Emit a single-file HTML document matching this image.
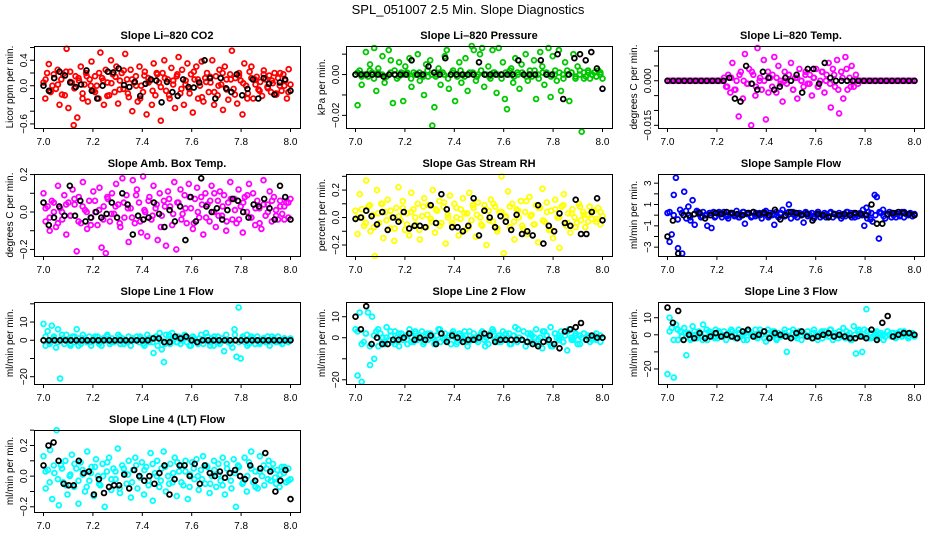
<!DOCTYPE html>
<html><head><meta charset="utf-8"><style>
body{margin:0;background:#fff}
svg{display:block;font-family:"Liberation Sans",Arial,sans-serif}
</style></head><body>
<svg id="chart" width="936" height="540" viewBox="0 0 936 540" xmlns="http://www.w3.org/2000/svg">
<rect width="936" height="540" fill="#fff"/>
<text x="468" y="14" text-anchor="middle" font-size="13">SPL_051007  2.5 Min. Slope Diagnostics</text>
</svg>
<script>
const xTicks=[7.0,7.2,7.4,7.6,7.8,8.0];
const xTickLabels=["7.0","7.2","7.4","7.6","7.8","8.0"];

const co2Vals=[0.05,-0.2,0.2,0.34,-0.1,0.0,0.12,-0.05,0.25,-0.3,0.1,0.18,-0.15,0.58,-0.35,0.22,0.05,-0.62,0.15,-0.5,0.08,0.3,-0.12,0.02,0.2,-0.25,0.1,0.38,-0.08,0.15,0.0,-0.2,0.52,0.12,-0.3,0.25,0.05,-0.15,0.4,0.18,-0.1,0.3,-0.28,0.08,0.2,-0.05,0.5,0.1,-0.18,0.25,-0.4,0.05,0.15,-0.25,0.3,0.0,-0.1,0.22,-0.45,0.12,0.08,-0.3,0.35,-0.15,0.18,0.05,-0.55,0.2,0.4,-0.08,0.1,-0.2,0.28,0.02,-0.35,0.15,0.45,-0.12,0.25,-0.3,0.08,0.35,-0.05,0.18,-0.42,0.1,0.3,-0.2,0.0,0.38,-0.25,0.12,0.2,-0.1,0.05,0.4,-0.3,0.15,-0.15,0.25,0.02,-0.38,0.3,0.1,-0.22,0.18,0.55,-0.05,0.12,-0.28,0.2,0.08,-0.45,0.35,0.0,-0.12,0.22,0.3,-0.2,0.1,0.14,-0.06,0.06,-0.16,0.24,0.1,-0.02,0.16,-0.1,0.04,0.2,-0.14,0.12,0.0,-0.08,0.18,0.08,-0.2,0.26,0.02];
const co2Extra=[0.1,-0.08,0.18,0.02,-0.14,0.22,0.06,-0.04,0.12,-0.2,0.15,0.0,-0.1,0.2,0.08,-0.16,0.04,0.14,-0.06,0.24,-0.12,0.1,0.0,-0.2,0.16,0.05,-0.08,0.2,-0.02,0.12,-0.15,0.08,0.18,-0.05,0.02,-0.12,0.22,0.1,-0.18,0.06,0.14,-0.1,0.0,0.2,-0.06,0.1,-0.14,0.16,0.04,-0.2,0.12,0.02,-0.08,0.18,-0.04,0.08,-0.12,0.2,0.0,-0.1];
const co2Black=[0.0,-0.08,0.12,0.22,0.16,0.05,-0.02,0.02,0.24,-0.08,-0.2,0.0,0.22,0.21,0.27,0.01,-0.02,0.06,-0.16,0.03,0.1,0.08,-0.26,0.06,-0.1,-0.16,0.1,-0.02,-0.03,0.05,0.4,0.12,-0.2,0.12,-0.04,-0.1,0.18,-0.15,-0.05,0.1,-0.2,0.12,0.03,-0.14,0.05,0.1,-0.08];

const presVals=[0.0,-0.015,0.002,-0.005,0.0,0.011,-0.001,0.005,0.001,0.013,-0.008,0.003,0.0,0.009,-0.004,-0.001,0.012,0.007,-0.014,0.0,-0.002,0.006,0.001,-0.013,0.004,0.0,0.008,-0.006,0.001,0.0,0.01,-0.003,0.0,-0.01,0.005,-0.001,0.007,-0.025,-0.016,0.0,0.003,-0.005,0.001,0.009,0.012,-0.007,0.0,0.002,-0.013,-0.001,0.006,-0.004,0.0,0.008,-0.008,0.001,0.014,0.012,-0.003,0.0,0.01,0.013,-0.006,0.0,0.004,-0.002,0.012,0.001,-0.009,0.013,0.0,0.006,-0.012,-0.017,0.0,0.003,-0.004,0.008,0.001,-0.007,0.005,0.0,0.01,-0.003,0.002,-0.001,0.007,-0.012,0.0,0.011,0.004,-0.005,0.001,0.013,-0.011,0.009,0.0,-0.003,0.012,-0.008,0.0,0.006,0.002,-0.013,0.001,0.01,-0.002,0.004,0.0,-0.028,0.001,-0.001,0.002,-0.002,0.0,0.001,-0.001,0.002,0.0,-0.002];
const presExtra=[0.001,-0.001,0.0,0.002,-0.002,0.001,0.0,-0.001,0.001,0.002,-0.001,0.0,0.001,-0.002,0.0,0.001,-0.001,0.002,0.0,-0.001,0.001,0.0,-0.002,0.001,0.0,0.002,-0.001,0.0,0.001,-0.001,0.002,0.0,-0.001,0.001,0.0,-0.002,0.001,0.002,-0.001,0.0,0.001,-0.001,0.0,0.002,-0.002,0.001,0.0,-0.001,0.002,0.001,-0.002,0.0,0.001,-0.001,0.002,-0.002,0.001,0.0,-0.001,0.001];
const presBlack=[0,0,0,0,0,-0.001,0,0,0,0,0.007,0,0,0.004,0.001,0,0.008,0,0,0,0,0,0.006,0,0,0,0,0,0,0.007,0,0,0,0.007,0,0,0.01,-0.012,0,0.008,0.01,0.007,0.011,0.003,-0.007];

const tempVals=[0,0,0,0,0,0,0,0,0,0,0,0,0,0,0,0,0,0,0,0,0,0,0,0,0,0,0,0.001,-0.002,0.002,-0.004,0.006,-0.003,0.0,-0.012,0.003,-0.006,0.009,-0.001,0.004,-0.015,0.002,-0.005,0.011,0.0,-0.003,0.007,-0.013,0.003,0.001,-0.002,0.008,-0.004,0.005,0.0,-0.007,0.003,-0.001,0.002,0.006,-0.003,0.001,-0.006,0.004,0.0,-0.002,0.003,-0.001,0.002,-0.005,0.001,0.004,-0.002,0.0,0.003,-0.004,0.002,0.006,-0.009,0.004,-0.002,0.007,-0.011,0.003,-0.006,0.008,-0.003,0.001,0.005,-0.002,0.002,-0.001,0,0,0,0,0,0,0,0,0,0,0,0,0,0,0,0,0,0,0,0,0,0,0,0,0,0,0];
const tempExtra=[0,0,0,0,0,0,0,0,0,0,0,0,0,0,-0.002,0.001,-0.003,0.002,0.0,-0.001,0.003,-0.002,0.001,0.0,-0.004,0.002,0.001,-0.001,0.0,0.002,-0.003,0.001,0.0,0.002,-0.001,0.001,-0.002,0.003,0.0,-0.001,0.002,-0.003,0.001,0.004,-0.002,0.0,0,0,0,0,0,0,0,0,0,0,0,0,0,0];
const tempBlack=[0,0,0,0,0,0,0,0,0,0,0,0.001,-0.006,-0.007,0.005,-0.001,-0.003,0.003,0.001,-0.003,-0.002,0.001,0.0,0.002,-0.004,0.004,0.004,-0.001,0.006,0.001,0,0,0,0,0,0,0,0,0,0,0,0,0,0,0];

const ambVals=[0.1,-0.05,0.03,-0.1,0.06,0.0,-0.08,0.14,0.02,-0.04,0.09,-0.12,0.05,-0.02,0.12,0.04,-0.21,0.08,-0.06,0.16,0.01,-0.09,0.06,-0.03,0.11,0.0,-0.07,0.13,-0.19,0.03,-0.22,0.07,-0.05,0.1,-0.01,0.15,0.04,-0.08,0.18,-0.03,0.09,-0.16,0.02,0.17,-0.06,0.12,0.05,-0.11,0.19,0.0,-0.13,0.08,-0.04,0.14,0.02,-0.15,0.1,-0.02,0.06,-0.18,0.11,0.03,-0.07,0.16,-0.2,0.05,0.12,-0.01,0.09,-0.06,0.15,0.02,-0.09,0.07,0.13,-0.03,0.08,-0.12,0.1,0.04,-0.05,0.14,0.0,-0.08,0.06,0.11,-0.02,0.09,-0.1,0.05,0.16,-0.04,0.07,-0.06,0.12,0.03,-0.11,0.08,0.0,0.15,-0.03,0.1,-0.07,0.06,0.02,-0.09,0.17,-0.02,0.04,0.11,-0.05,0.08,0.01,-0.04,0.06,-0.01,0.03,0.05,-0.03,0.07];
const ambExtra=[0.02,-0.03,0.05,-0.06,0.0,0.04,-0.02,0.07,-0.05,0.03,0.0,-0.07,0.06,0.01,-0.04,0.08,-0.01,0.03,-0.06,0.05,0.02,-0.03,0.09,-0.05,0.01,0.06,-0.02,0.04,-0.08,0.03,0.07,-0.01,0.05,-0.04,0.02,0.08,-0.06,0.0,0.04,-0.03,0.06,0.1,-0.02,0.03,-0.05,0.07,0.01,-0.04,0.05,0.09,-0.03,0.02,-0.06,0.04,0.0,0.06,-0.02,0.03,-0.04,0.05];
const ambBlack=[0.05,-0.07,-0.03,0.03,-0.02,0.14,-0.02,0.06,-0.05,-0.03,0.0,-0.03,-0.01,0.05,-0.03,0.1,0.04,-0.12,-0.02,-0.04,-0.03,0.05,-0.01,-0.08,0.01,-0.05,0.03,-0.15,0.08,-0.05,0.18,0.03,0.0,0.02,-0.04,0.01,0.07,0.06,0.0,-0.03,0.04,0.03,0.07,0.02,-0.04,0.14,0.08,-0.04];

const rhVals=[0.05,-0.12,0.17,0.0,-0.06,0.27,0.08,-0.1,0.02,-0.28,0.2,-0.04,0.1,-0.15,0.04,0.13,-0.08,0.0,-0.17,0.07,0.22,-0.02,0.12,-0.09,0.03,-0.13,0.18,0.06,-0.05,0.1,-0.16,0.01,0.14,-0.07,0.09,-0.01,0.2,-0.11,0.05,0.12,-0.04,0.08,-0.19,0.02,0.16,-0.06,0.1,0.0,-0.13,0.06,0.14,-0.09,0.03,0.18,-0.02,0.07,-0.14,0.11,0.0,-0.06,0.09,-0.2,0.05,0.13,-0.03,0.08,-0.1,0.04,0.3,-0.26,0.01,0.19,-0.07,0.1,-0.16,0.06,0.0,0.12,-0.08,0.04,-0.12,0.15,0.02,-0.05,0.09,-0.18,0.07,0.21,-0.03,0.11,-0.09,0.05,-0.15,0.13,0.0,-0.22,0.08,0.17,-0.06,0.03,-0.11,0.06,0.0,-0.04,0.1,-0.02,0.04,-0.07,0.02,0.08,-0.01,0.05,-0.03,0.07,-0.05,0.01];
const rhExtra=[0.0,0.06,-0.04,0.09,-0.07,0.03,0.1,-0.02,0.05,-0.08,0.01,0.07,-0.05,0.04,0.0,-0.09,0.08,0.02,-0.03,0.06,-0.06,0.11,0.0,-0.04,0.07,-0.01,0.03,-0.07,0.09,0.02,-0.05,0.06,-0.02,0.1,-0.08,0.04,0.0,0.08,-0.03,0.05,-0.06,0.12,0.01,-0.05,0.07,-0.02,0.04,-0.09,0.06,0.0,0.09,-0.04,0.03,-0.07,0.08,0.02,-0.03,0.05,-0.01,0.04];
const rhBlack=[-0.01,0.0,0.05,0.01,-0.05,0.04,-0.09,0.0,-0.03,0.04,-0.08,-0.06,-0.06,-0.07,0.09,-0.04,0.17,0.06,-0.07,-0.07,-0.1,-0.06,0.14,-0.13,0.05,0.0,-0.07,0.01,-0.03,-0.09,0.02,-0.12,-0.1,-0.13,0.09,-0.19,-0.06,-0.1,0.03,-0.04,-0.06,0.13,-0.12,-0.12,0.04,0.14,-0.02];

const sampleVals=[0.2,-2.5,-1.8,1.9,3.5,-3.1,0.5,-3.6,2.2,-0.3,0.8,-0.5,1.4,-0.9,0.4,0.1,-0.2,0.3,0.0,-1.0,0.2,-1.2,0.3,-0.1,0.2,0.1,-0.2,0.3,0.0,-0.3,0.2,0.1,-0.1,0.4,-0.2,0.0,0.3,-0.8,0.1,0.2,-0.2,0.3,-0.1,0.0,0.2,-0.3,0.1,0.4,-0.1,0.2,0.0,-0.9,0.3,-0.2,0.1,0.5,-0.1,0.2,1.0,-0.3,0.3,0.0,-0.2,0.2,0.1,-0.7,0.3,-0.1,0.0,0.2,-0.3,0.1,0.3,-0.2,0.0,0.2,0.1,-0.1,0.3,-0.2,0.1,0.0,0.2,-0.3,0.1,-0.1,0.3,0.0,-0.2,0.2,0.1,-0.1,0.2,0.0,-1.0,0.7,0.3,-0.4,-0.6,1.9,1.7,-2.2,0.2,0.5,-0.3,0.1,0.3,-0.2,0.0,0.2,0.1,-0.1,0.3,-0.2,0.1,0.0,0.2,-0.1,0.1];
const sampleExtra=[0.3,0.0,-0.4,0.2,0.4,-0.2,0.1,0.3,-0.1,0.0,0.2,-0.2,0.3,0.1,-0.1,0.2,0.0,-0.2,0.3,0.1,-0.1,0.2,0.0,0.3,-0.2,0.1,0.0,0.2,-0.1,0.3,0.1,-0.2,0.0,0.2,0.1,-0.1,0.3,0.0,-0.2,0.2,0.1,0.0,-0.1,0.3,0.2,-0.2,0.1,0.5,-0.3,0.2,0.0,0.3,-0.1,0.1,0.2,-0.2,0.0,0.3,0.1,-0.1];
const sampleBlack=[-2.0,-0.5,-3.6,0.0,0.0,0.1,0.2,-0.3,0.0,0.2,0.1,0.3,0.2,0.1,0.0,0.2,0.3,0.1,0.2,0.0,0.5,-0.4,0.0,0.3,0.2,0.0,0.1,-0.5,0.1,0.0,-0.2,0.1,0.0,0.1,0.0,0.2,0.1,0.0,1.0,-0.8,-0.8,0.1,0.2,0.3,0.2,0.1,0.0];

const line1Vals=[9,-3,5,-1,8,2,-4,6,-21,1,-2,3,0,-3,2,-1,6,1,-2,3,0,-1,2,-3,1,0,2,-1,-3,1,0,2,-2,1,-1,0,3,-2,1,0,-1,2,-3,1,0,2,-1,1,-2,0,3,-1,1,-7,2,-3,4,-5,-12,3,0,-2,4,1,-1,2,-2,0,3,-1,1,-3,2,0,-1,1,3,-2,0,2,-1,1,-3,0,2,-2,1,-6,3,-1,0,-4,6,-9,18,-10,2,-1,3,-2,1,0,-2,2,-1,0,1,-1,2,-3,0,1,-1,2,0,-2,1,0,-1,1];
const line1Extra=[2,-2,1,-1,3,0,-2,2,-3,1,0,-1,2,-2,1,3,-1,0,2,-2,-1,1,0,2,-3,1,-1,2,0,-2,3,1,-1,0,2,-3,1,-2,0,4,-3,2,-1,1,0,-2,3,-1,1,-3,2,0,-2,1,-1,2,0,-1,1,0];
const line1Black=[0,0,0,0,0,0,0,0,0,0,0,0,0,0,0,0,0,0,0,0,1,1,-1,-1,2,1,2,0,-1,0,0,0,0,0,0,0,0,0,0,0,0,0,0,0,0,0];

const line2Vals=[4,-18,12,-21,-2,2,12,-13,10,-10,3,-4,2,0,-3,5,-1,1,-2,3,0,-4,2,-1,1,-3,4,0,-2,2,-1,0,3,-2,1,-1,2,0,-3,1,4,-2,0,2,-1,1,-3,3,0,-2,2,-1,0,1,-4,3,-1,2,0,-2,1,3,-1,0,-3,2,4,-1,0,1,-2,3,-1,0,2,-3,1,5,-2,0,-1,3,-4,2,0,1,-2,4,-1,0,-5,3,1,-2,5,-4,2,0,-1,3,-2,1,-6,4,0,-1,2,-3,1,0,2,-1,1,-2,0,1,-1,0,1,0];
const line2Extra=[3,-3,2,-4,1,4,-2,0,3,-3,2,-1,1,-2,3,0,-3,2,1,-2,4,-1,0,2,-3,1,3,-2,0,-1,2,-4,1,3,-2,0,2,-3,1,4,-1,-2,2,0,-3,3,1,-4,2,0,-2,3,-1,1,-3,2,0,-1,2,-2];
const line2Black=[10,4,15,-3,0,-3,-3,-1,-1,0,2,-1,0,-1,1,-3,2,-2,1,0,-2,-1,-1,0,2,1,-2,-1,-1,-1,-1,-1,-2,-3,-4,-2,-1,-3,-5,3,4,5,7,-1,1,0,0];

const line3Vals=[-23,10,4,-25,6,-3,2,-1,4,-12,1,-3,5,0,-2,2,-1,6,1,-3,2,0,-1,3,-2,1,0,2,-3,1,-1,2,0,-2,3,-1,0,1,-3,2,0,-1,3,-2,1,0,2,-4,3,-1,0,2,-2,1,-1,0,3,-10,2,-2,1,-1,0,2,-3,1,0,2,-1,-2,3,0,-1,1,-2,2,0,-1,3,-3,1,0,2,-1,4,-2,0,1,-3,5,-11,2,0,-10,3,15,-2,1,-1,0,2,-2,1,0,-1,2,0,-1,1,-2,1,0,-1,2,0,-1,1,0,-1];
const line3Extra=[2,-3,3,-1,1,-2,2,0,-3,3,1,-2,2,-1,0,3,-2,1,-3,2,0,-1,3,-2,1,2,-3,0,1,-1,3,-2,2,0,-1,1,-3,2,0,3,-1,-2,1,2,-3,0,3,-1,2,-2,1,0,-3,2,1,-1,2,0,-2,1];
const line3Black=[16,7,14,-3,0,-2,1,-2,-1,1,-1,0,-1,-2,2,3,-1,0,2,-2,1,0,-1,-2,1,2,-1,-2,-1,0,1,-1,0,-1,-2,-2,-1,-2,3,-3,7,11,-1,0,1,1,0];

const line4Vals=[0.13,-0.08,0.04,0.17,-0.15,0.02,0.3,-0.19,0.07,-0.04,0.1,-0.12,0.0,0.14,-0.07,0.05,-0.18,0.09,0.01,-0.1,0.16,-0.03,0.06,-0.13,0.11,0.0,-0.06,0.08,-0.2,0.03,0.12,-0.09,0.05,-0.02,0.18,-0.11,0.07,0.02,-0.05,0.1,-0.14,0.04,0.12,-0.08,0.0,0.09,-0.12,0.06,-0.03,0.15,-0.16,0.02,0.1,-0.07,0.05,0.16,-0.1,0.0,0.08,-0.04,0.12,-0.13,0.03,0.07,-0.06,0.1,-0.15,0.01,0.09,-0.02,0.11,-0.09,0.04,0.13,-0.05,0.06,-0.11,0.0,0.1,-0.07,0.08,-0.03,0.12,-0.12,0.05,0.02,-0.08,0.11,-0.2,0.07,0.0,-0.05,0.12,-0.1,0.09,0.16,-0.04,0.03,-0.08,0.13,0.0,-0.06,0.05,0.1,-0.03,0.08,-0.01,0.04,-0.07,0.06,0.02,-0.04,0.05,-0.02];
const line4Extra=[0.03,-0.04,0.07,-0.02,0.05,-0.06,0.01,0.08,-0.03,0.04,-0.07,0.02,0.06,-0.05,0.0,0.09,-0.02,0.03,-0.08,0.05,0.01,-0.04,0.07,-0.01,0.04,-0.06,0.08,0.0,-0.03,0.06,-0.05,0.02,0.09,-0.04,0.03,-0.07,0.05,0.0,-0.02,0.07,-0.05,0.04,0.01,-0.06,0.08,-0.03,0.02,0.06,-0.04,0.0,0.05,-0.07,0.03,0.07,-0.02,0.04,-0.05,0.01,0.06,-0.03];
const line4Black=[0.07,0.2,0.22,0.1,-0.05,-0.06,-0.06,0.1,0.02,0.03,-0.12,-0.02,-0.11,-0.07,-0.06,-0.06,0.01,-0.08,0.04,0.0,-0.03,0.0,-0.05,0.02,0.07,-0.12,-0.02,0.07,0.07,0.0,0.08,-0.05,0.07,0.02,0.0,0.03,-0.01,0.02,0.04,0.0,-0.02,0.07,-0.03,0.05,0.15,0.03,-0.1,-0.03,0.04,-0.15];

const colLeft=[34,346,658], rowTop=[46,174,302,430], PW=266, PH=82;
const panels=[
 {name:"co2",title:"Slope Li-820 CO2",ylab:"Licor ppm per min.",col:0,row:0,color:"#ff0000",ymin:-0.664,ymax:0.624,ticks:[-0.6,-0.4,-0.2,0,0.2,0.4,0.6],labels:[[-0.6,"-0.6"],[0,"0.0"],[0.4,"0.4"]],vals:co2Vals,extra:co2Extra,blk:co2Black},
 {name:"pressure",title:"Slope Li-820 Pressure",ylab:"kPa per min.",col:1,row:0,color:"#00c800",ymin:-0.0262,ymax:0.014,ticks:[-0.02,-0.01,0,0.01],labels:[[-0.02,"-0.02"],[0,"0.00"]],vals:presVals,extra:presExtra,blk:presBlack},
 {name:"temp",title:"Slope Li-820 Temp.",ylab:"degrees C per min.",col:2,row:0,color:"#ff00ff",ymin:-0.0159,ymax:0.0117,ticks:[-0.015,-0.01,-0.005,0,0.005,0.01],labels:[[-0.015,"-0.015"],[0,"0.000"]],vals:tempVals,extra:tempExtra,blk:tempBlack},
 {name:"amb-box-temp",title:"Slope Amb. Box Temp.",ylab:"degrees C per min.",col:0,row:1,color:"#ff00ff",ymin:-0.235,ymax:0.203,ticks:[-0.2,-0.1,0,0.1,0.2],labels:[[-0.2,"-0.2"],[0,"0.0"],[0.2,"0.2"]],vals:ambVals,extra:ambExtra,blk:ambBlack},
 {name:"gas-stream-rh",title:"Slope Gas Stream RH",ylab:"percent per min.",col:1,row:1,color:"#ffff00",ymin:-0.28,ymax:0.317,ticks:[-0.2,-0.1,0,0.1,0.2,0.3],labels:[[-0.2,"-0.2"],[0,"0.0"],[0.2,"0.2"]],vals:rhVals,extra:rhExtra,blk:rhBlack},
 {name:"sample-flow",title:"Slope Sample Flow",ylab:"ml/min per min.",col:2,row:1,color:"#0000ff",ymin:-3.83,ymax:3.86,ticks:[-3,-2,-1,0,1,2,3],labels:[[-3,"-3"],[-1,"-1"],[1,"1"],[3,"3"]],vals:sampleVals,extra:sampleExtra,blk:sampleBlack},
 {name:"line1-flow",title:"Slope Line 1 Flow",ylab:"ml/min per min.",col:0,row:2,color:"#00ffff",ymin:-24,ymax:21,ticks:[-20,-10,0,10,20],labels:[[-20,"-20"],[0,"0"],[10,"10"]],vals:line1Vals,extra:line1Extra,blk:line1Black},
 {name:"line2-flow",title:"Slope Line 2 Flow",ylab:"ml/min per min.",col:1,row:2,color:"#00ffff",ymin:-22,ymax:17,ticks:[-20,-10,0,10],labels:[[-20,"-20"],[0,"0"],[10,"10"]],vals:line2Vals,extra:line2Extra,blk:line2Black},
 {name:"line3-flow",title:"Slope Line 3 Flow",ylab:"ml/min per min.",col:2,row:2,color:"#00ffff",ymin:-28.8,ymax:19.2,ticks:[-20,-10,0,10],labels:[[-20,"-20"],[0,"0"],[10,"10"]],vals:line3Vals,extra:line3Extra,blk:line3Black},
 {name:"line4-flow",title:"Slope Line 4 (LT) Flow",ylab:"ml/min per min.",col:0,row:3,color:"#00ffff",ymin:-0.234,ymax:0.301,ticks:[-0.2,-0.1,0,0.1,0.2,0.3],labels:[[-0.2,"-0.2"],[0,"0.0"],[0.2,"0.2"]],vals:line4Vals,extra:line4Extra,blk:line4Black}
];
const NS="http://www.w3.org/2000/svg";
const svg=document.getElementById("chart");
function mk(tag,attrs,parent){const e=document.createElementNS(NS,tag);for(const k in attrs)e.setAttribute(k,attrs[k]);parent.appendChild(e);return e;}
panels.forEach(p=>{
 const L=colLeft[p.col],T=rowTop[p.row],B=T+PH;
 const g=mk("g",{},svg);
 
 
 const xs=v=>L+9.5+(v-7)/1*(PW-19);
 const ys=v=>B-(v-p.ymin)/(p.ymax-p.ymin)*PH;
 const t=mk("text",{x:L+PW/2,y:T-7,"text-anchor":"middle","font-size":"11","font-weight":"bold"},g);
 t.textContent=p.title.replace(/-/g,"\u2013");
 
 
 const pts=mk("g",{fill:"none","stroke-width":"1.8"},g);
 
 
 const plot=(arr,c,off)=>{
  arr.forEach((v,i)=>{
   const cx=xs(7+(i+off)/(arr.length-1+2*off)), cy=ys(v);
   const ci=mk("circle",{cx:cx.toFixed(1),cy:cy.toFixed(1),r:"2.4",stroke:c},pts);
   
   
  });
 };
 plot(p.vals,p.color,0);
 plot(p.extra,p.color,0.5);
 plot(p.blk,"#000",0);
 const box=mk("rect",{x:L+0.5,y:T+0.5,width:PW,height:PH,fill:"none",stroke:"#000","stroke-width":"1"},g);
 
 
 const xa=mk("g",{},g);
 
 
 xTicks.forEach((v,i)=>{
  const x=xs(v);
  mk("line",{x1:x,x2:x,y1:B,y2:B+4,stroke:"#000"},xa);
  const tl=mk("text",{x:x,y:B+17,"text-anchor":"middle","font-size":"10"},xa);
  tl.textContent=xTickLabels[i];
  
  
 });
 const ya=mk("g",{},g);
 
 
 p.ticks.forEach(v=>{const y=ys(v);if(y<T-1||y>B+1)return;mk("line",{x1:L-4,x2:L,y1:y,y2:y,stroke:"#000"},ya);});
 p.labels.forEach(([v,s])=>{
  const y=ys(v);
  const tl=mk("text",{x:0,y:0,"text-anchor":"middle","font-size":"10",transform:`translate(${L-7},${y}) rotate(-90)`},ya);
  tl.textContent=s.replace("-","\u2212");
  
  
 });
 const yl=mk("text",{x:0,y:0,"text-anchor":"middle","font-size":"10",transform:`translate(${L-21},${T+PH/2}) rotate(-90)`},g);
 yl.textContent=p.ylab;
 
 
});
</script>
</body></html>
